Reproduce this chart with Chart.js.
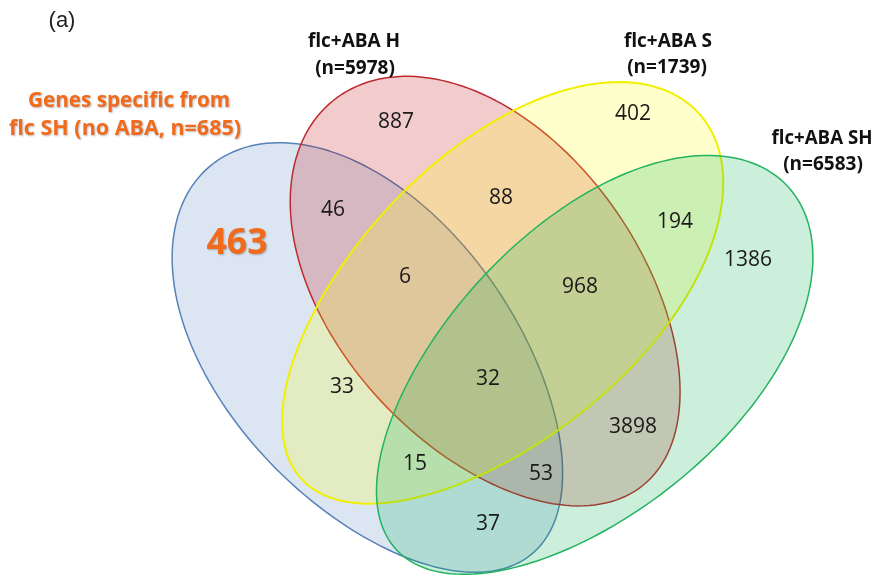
<!DOCTYPE html>
<html>
<head>
<meta charset="utf-8">
<script src="https://cdn.jsdelivr.net/npm/chart.js@4.4.1/dist/chart.umd.min.js"></script>
<style>
  html, body { margin: 0; padding: 0; background: #ffffff; }
  #wrap { width: 875px; height: 578px; position: relative; }
</style>
</head>
<body>
<div id="wrap"><canvas id="venn" width="875" height="578"></canvas></div>
<script>
// Four-set Venn: flc SH (no ABA) vs flc+ABA H / S / SH

const panelTag = '(a)';
const setNames = ['Genes specific from', 'flc+ABA H', 'flc+ABA S', 'flc+ABA SH'];
const setSizes = [685, 5978, 1739, 6583];

// region counts, drawn inside the overlaps
const regionCounts = [463, 887, 402, 1386, 46, 88, 194, 6, 968, 33, 32, 3898, 15, 53, 37];

// ─── Layout (data units = canvas pixels, y grows downward) ───────────────────
const regionAnchors = [
  [237, 244], [396, 122], [633, 114], [748, 260], [333, 210], [501, 198],
  [675, 222], [405, 277], [580, 287], [342, 387], [488, 379], [633, 427],
  [415, 464], [541, 474], [488, 524],
];

// egg = how much wider one end of the shape is than the other
const setShapes = [
  { cx: 371, cy: 360, rx: 252, ry: 144, rot: 50.4,  egg: 0.07,  fill: 'rgba(79,129,189,0.2)', stroke: '#5682b8', lw: 1.5 },
  { cx: 488, cy: 293, rx: 247, ry: 152, rot: 51.2,  egg: 0.05,  fill: 'rgba(192,0,0,0.2)',    stroke: '#c0282d', lw: 1.5 },
  { cx: 500, cy: 296, rx: 270, ry: 142, rot: -42.7, egg: -0.07, fill: 'rgba(255,255,0,0.2)',  stroke: '#f0f000', lw: 2 },
  { cx: 592, cy: 368, rx: 267, ry: 142, rot: -42.9, egg: -0.07, fill: 'rgba(0,176,80,0.2)',   stroke: '#22b35e', lw: 1.5 },
];

const ORANGE = '#f26a1b';
const FONT = '"Open Sans", "Noto Sans", sans-serif';

// ─── Plugins ──────────────────────────────────────────────────────────────────
function _eggPath(ctx, px, py, rx, ry, rot, egg) {
  const c = Math.cos(rot), s = Math.sin(rot);
  ctx.beginPath();
  for (let i = 0; i <= 180; i++) {
    const t = i / 180 * Math.PI * 2;
    const u = rx * Math.cos(t);
    const v = ry * Math.sin(t) * (1 - egg * Math.cos(t));
    const X = px + u * c - v * s;
    const Y = py + u * s + v * c;
    if (i === 0) ctx.moveTo(X, Y); else ctx.lineTo(X, Y);
  }
  ctx.closePath();
}

const ellipsePlugin = {
  id: 'vennEllipses',
  beforeDatasetsDraw(chart) {
    const { ctx, scales: { x, y } } = chart;
    setShapes.forEach(s => {
      const px = x.getPixelForValue(s.cx);
      const py = y.getPixelForValue(s.cy);
      const rx = Math.abs(x.getPixelForValue(s.cx + s.rx) - px);
      const ry = Math.abs(y.getPixelForValue(s.cy + s.ry) - py);
      ctx.save();
      _eggPath(ctx, px, py, rx, ry, s.rot * Math.PI / 180, s.egg);
      ctx.fillStyle = s.fill;
      ctx.fill();
      ctx.lineWidth = s.lw;
      ctx.lineJoin = 'round';
      ctx.strokeStyle = s.stroke;
      ctx.stroke();
      ctx.restore();
    });
  }
};

function _text(ctx, str, x, y, font, color, maxW) {
  ctx.font = font;
  ctx.fillStyle = color;
  if (maxW) ctx.fillText(str, x, y, maxW);
  else ctx.fillText(str, x, y);
}

function _shadow(ctx) {
  ctx.shadowColor = 'rgba(0,0,0,0.28)';
  ctx.shadowBlur = 2;
  ctx.shadowOffsetX = 1;
  ctx.shadowOffsetY = 1;
}

const labelPlugin = {
  id: 'vennLabels',
  afterDatasetsDraw(chart) {
    const { ctx, scales: { x, y } } = chart;
    const meta = chart.getDatasetMeta(0);
    ctx.save();
    ctx.textAlign = 'center';
    ctx.textBaseline = 'middle';

    // counts
    meta.data.forEach((pt, i) => {
      if (i === 0) {
        ctx.save();
        _shadow(ctx);
        _text(ctx, String(regionCounts[i]), pt.x, pt.y, `bold 36px ${FONT}`, ORANGE, 61);
        ctx.restore();
      } else {
        _text(ctx, String(regionCounts[i]), pt.x, pt.y, `21px ${FONT}`, '#1a1a1a');
      }
    });

    // set titles
    const bold = `bold 19px ${FONT}`;
    const px = v => x.getPixelForValue(v);
    const py = v => y.getPixelForValue(v);
    _text(ctx, setNames[1], px(354), py(42), bold, '#111', 93);
    _text(ctx, `(n=${setSizes[1]})`, px(355), py(69), bold, '#111', 81);
    _text(ctx, setNames[2], px(668), py(42), bold, '#111', 90);
    _text(ctx, `(n=${setSizes[2]})`, px(667), py(68), bold, '#111', 81);
    _text(ctx, setNames[3], px(822), py(139), bold, '#111', 101);
    _text(ctx, `(n=${setSizes[3]})`, px(823), py(165), bold, '#111', 83);

    ctx.save();
    _shadow(ctx);
    _text(ctx, setNames[0], px(129), py(101), `bold 22px ${FONT}`, ORANGE, 202);
    _text(ctx, `flc SH (no ABA, n=${setSizes[0]})`, px(125), py(129), `bold 22px ${FONT}`, ORANGE, 232);
    ctx.restore();

    _text(ctx, panelTag, px(62), py(21), `22px "Liberation Sans", Arial, sans-serif`, '#222');
    ctx.restore();
  }
};

// ─── Chart ────────────────────────────────────────────────────────────────────
new Chart(document.getElementById('venn'), {
  type: 'scatter',
  data: {
    datasets: [{
      label: 'regions',
      data: regionCounts.map((v, i) => ({ x: regionAnchors[i][0], y: regionAnchors[i][1], v })),
      pointRadius: 0,
      pointHoverRadius: 0,
    }]
  },
  options: {
    responsive: false,
    devicePixelRatio: 1,
    animation: false,
    layout: { padding: 0 },
    plugins: { legend: { display: false }, tooltip: { enabled: false } },
    scales: {
      x: { type: 'linear', min: 0, max: 875, display: false },
      y: { type: 'linear', min: 0, max: 578, reverse: true, display: false },
    }
  },
  plugins: [ellipsePlugin, labelPlugin],
});
</script>
</body>
</html>
